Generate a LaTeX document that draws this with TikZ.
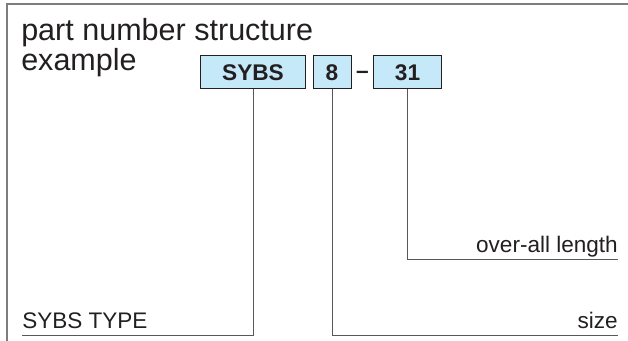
\documentclass[tikz,border=0pt]{standalone}
\usepackage{fontspec}
\setmainfont{Liberation Sans}
\definecolor{boxblue}{RGB}{198,233,250}
\definecolor{inkc}{RGB}{35,31,32}
\definecolor{framec}{RGB}{125,125,125}
\tikzset{x=0.75pt,y=-0.75pt,
  partbox/.style={draw=inkc,fill=boxblue,line width=0.75pt,inner sep=0pt,minimum height=24.75pt,text=inkc,font=\fontsize{17}{20}\selectfont\bfseries},
  leader/.style={draw=inkc!75,line width=0.75pt},
  lbl/.style={inner sep=0pt,text=inkc,font=\fontsize{16.9}{20}\selectfont},
  titletxt/.style={inner sep=0pt,text=inkc,align=left,font=\fontsize{22.9}{22.5}\selectfont}}
\begin{document}
\begin{tikzpicture}
\useasboundingbox (0,0) rectangle (628,341);
\fill[white] (0,0) rectangle (628,341);
\draw[framec,line width=1.5pt] (6.5,341) -- (6.5,4.5) -- (628,4.5);
\node[titletxt,anchor=base west] (title) at (21,40.5) {part number structure};
\node[titletxt,anchor=base west] (titleb) at (21,70.5) {example};
\node[partbox,minimum width=78.5pt,anchor=center] (sybs) at (253,72.5) {SYBS};
\node[partbox,minimum width=28.5pt,anchor=center] (eight) at (332,72.5) {8};
\node[partbox,minimum width=51pt,anchor=center] (tone) at (407.5,72.5) {31};
\node[inner sep=0pt,text=inkc,font=\fontsize{17}{20}\selectfont\bfseries] (dash) at (362.5,75) {–};
\node[lbl,anchor=base west] (type) at (22,329) {SYBS TYPE};
\node[lbl,anchor=base east] (size) at (618,329) {size};
\node[lbl,anchor=base east] (len) at (618,253) {over-all length};
\coordinate (c1) at (22,335.5);
\coordinate (c2) at (618,335.5);
\coordinate (c3) at (618,260);
\draw[leader] (sybs.south) |- (c1);
\draw[leader] (eight.south) |- (c2);
\draw[leader] (tone.south) |- (c3);
\end{tikzpicture}
\end{document}
